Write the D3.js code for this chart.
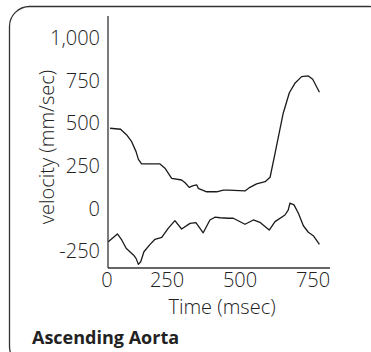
<!DOCTYPE html>
<html><head><meta charset="utf-8">
<script src="https://cdn.jsdelivr.net/npm/d3@7"></script>
<style>html,body{margin:0;padding:0;background:#fff;overflow:hidden}</style>
</head><body>
<svg id="c" width="371" height="352"></svg>
<script>
const xTicks = [0, 250, 500, 750];
const yTicks = [-250, 0, 250, 500, 750, 1000];
const yTickLabels = ["-250", "0", "250", "500", "750", "1,000"];
const upperTime = [55,91,112,129,144,152,163,226,243,266,300,312,326,340,352,357,386,420,443,460,517,534,557,586,603,620,648,669,688,711,734,749,772];
const upperVel  = [467,461,428,388,330,285,258,258,233,174,164,148,121,131,135,115,95,95,105,105,100,121,141,154,180,320,555,675,730,769,773,754,678];
const lowerTime = [49,80,95,110,135,144,152,160,171,192,209,232,254,277,300,329,349,374,397,414,432,460,477,517,546,568,600,620,654,665,671,685,700,717,734,751,772];
const lowerVel  = [-197,-152,-187,-236,-275,-295,-330,-315,-256,-213,-183,-172,-119,-74,-123,-90,-86,-145,-70,-54,-57,-60,-60,-95,-70,-84,-129,-80,-41,-12,28,18,-31,-104,-142,-162,-213];
const xTitle = "Time (msec)";
const yTitle = "velocity (mm/sec)";
const chartTitle = "Ascending Aorta";

const svg = d3.select("#c");
const font = "'Open Sans', sans-serif";
svg.append("rect").attr("x",9.5).attr("y",6.5).attr("width",380).attr("height",360)
  .attr("rx",20).attr("fill","none").attr("stroke","#333").attr("stroke-width",1.3);

const axL = 108, axR = 330, axT = 16, axB = 268;
const x = d3.scaleLinear().domain([250, 500]).range([167, 240]);
const y = d3.scaleLinear().domain([0, 250]).range([208, 165.3]);

const g = svg.append("g");
g.append("line").attr("x1",axL).attr("x2",axL).attr("y1",axT).attr("y2",axB).attr("stroke","#333").attr("stroke-width",1.3);
g.append("line").attr("x1",axL).attr("x2",axR).attr("y1",axB).attr("y2",axB).attr("stroke","#333").attr("stroke-width",1.3);

const yAxis = d3.axisLeft(y).tickValues(yTicks).tickSize(0).tickPadding(0)
  .tickFormat((d,i)=>yTickLabels[i]);
const ya = g.append("g").attr("transform",`translate(100,0)`).call(yAxis);
ya.select(".domain").remove();
ya.selectAll("text").attr("font-family",font).attr("font-size",20).attr("font-weight",300).attr("fill","#222").attr("dy","0.36em");

const xAxis = d3.axisBottom(x).tickValues(xTicks).tickSize(0).tickPadding(0).tickFormat(d3.format("d"));
const xa = g.append("g").attr("transform",`translate(0,${axB})`).call(xAxis);
xa.select(".domain").remove();
xa.selectAll(".tick").attr("transform", d => `translate(${Math.max(x(d), 107)},0)`);
xa.selectAll("text").attr("font-family",font).attr("font-size",20).attr("font-weight",300).attr("fill","#222").attr("y",19).attr("dy",0);

const line = d3.line().x(d=>x(d[0])).y(d=>y(d[1])).curve(d3.curveLinear);
const up = upperTime.map((t,i)=>[t,upperVel[i]]);
const lo = lowerTime.map((t,i)=>[t,lowerVel[i]]);
[up, lo].forEach(data => {
  g.append("path").datum(data).attr("d", line).attr("fill","none").attr("stroke","#1a1a1a").attr("stroke-width",1.3).attr("stroke-linejoin","round");
});

svg.append("text").attr("x",222).attr("y",314).attr("text-anchor","middle")
  .attr("font-family",font).attr("font-size",20).attr("font-weight",300).attr("fill","#222").text(xTitle);
svg.append("text").attr("transform","translate(54,147) rotate(-90)").attr("text-anchor","middle")
  .attr("font-family",font).attr("font-size",20).attr("font-weight",300).attr("fill","#222").text(yTitle);
svg.append("text").attr("x",32).attr("y",344)
  .attr("font-family",font).attr("font-size",18).attr("font-weight","bold").attr("fill","#222").text(chartTitle);
</script>
</body></html>
